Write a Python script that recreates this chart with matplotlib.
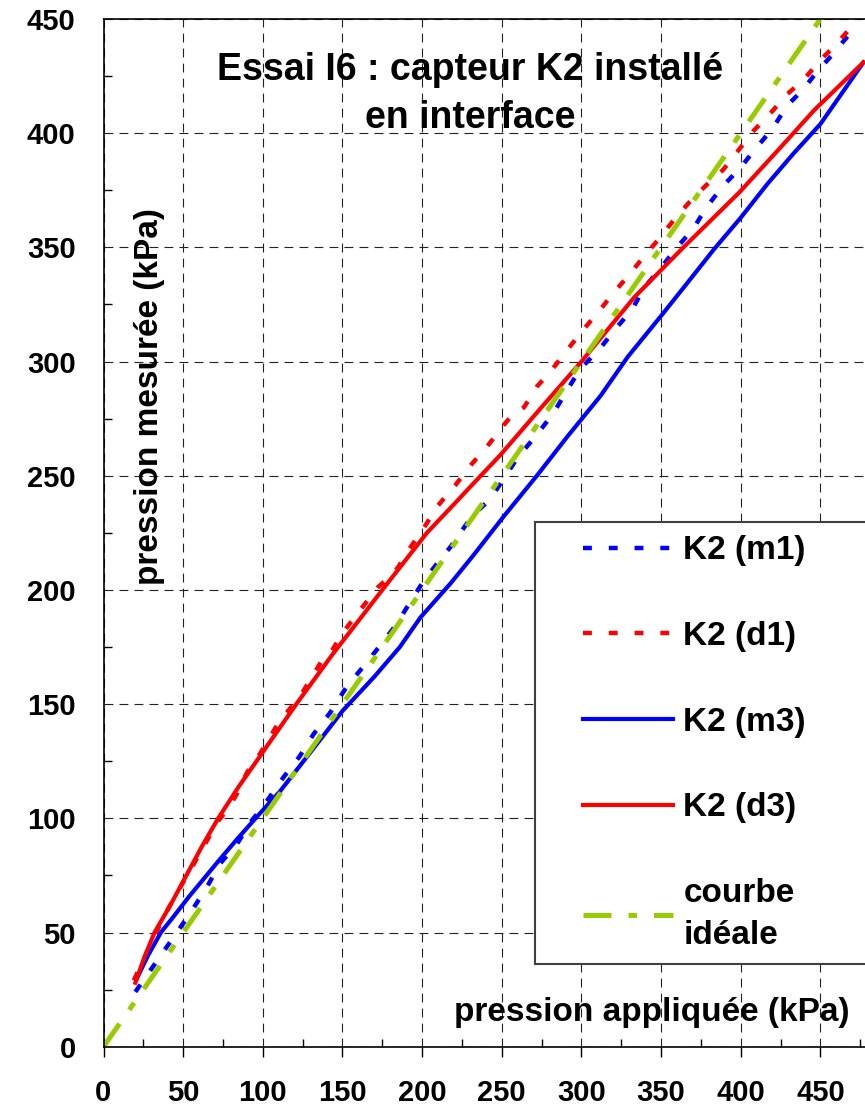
import matplotlib
matplotlib.use("Agg")
import matplotlib.pyplot as plt
from matplotlib.ticker import MultipleLocator
from matplotlib.lines import Line2D
from matplotlib.legend_handler import HandlerLine2D

# Essai I6 : capteur K2 installe en interface
# pression appliquee vs pression mesuree (kPa), values read off the original chart

m1_x = [20, 26, 38, 46, 54, 65, 73, 84, 93, 100, 113, 123, 132, 142, 153, 165, 174, 184, 191, 201,
        211, 218, 231, 243, 260, 272, 282, 295, 301, 312, 321, 332, 339, 351, 360, 370, 379, 389,
        400, 409, 420, 429, 439, 448, 457, 469, 475]
m1_y = [24, 30, 42, 50, 58, 70, 80, 89, 99, 105, 118, 127, 137, 146, 158, 168, 176, 185, 193, 204,
        213, 219, 232, 240, 258, 268, 277, 292, 298, 306, 314, 323, 332, 342, 350, 358, 368, 377,
        385, 393, 402, 412, 419, 427, 434, 444, 447]

d1_x = [19, 25, 31, 38, 45, 55, 64, 71, 78, 84, 90, 98, 110, 117, 123, 131, 137, 143, 151, 162,
        172, 180, 185, 192, 200, 210, 221, 231, 241, 251, 257, 264, 272, 281, 291, 300, 311, 320,
        330, 338, 349, 358, 368, 378, 389, 398, 408, 419, 429, 439, 450, 460, 470]
d1_y = [29, 38, 47, 57, 66, 78, 89, 98, 104, 111, 120, 128, 142, 148, 153, 162, 169, 173, 182, 192,
        201, 206, 210, 218, 226, 237, 246, 255, 263, 272, 277, 280, 289, 296, 305, 313, 322, 330,
        338, 345, 354, 362, 370, 377, 384, 392, 401, 409, 417, 423, 432, 439, 447]

m3_x = [21, 28, 36, 44, 54, 73, 84, 98, 111, 130, 150, 170, 186, 199, 218, 232, 251, 272, 291, 312,
        329, 350, 366, 383, 400, 417, 433, 450, 477]
m3_y = [30, 40, 50, 57, 66, 82, 91, 102, 112, 129, 147, 162, 175, 188, 203, 215, 232, 250, 267, 285,
        302, 320, 334, 349, 363, 378, 391, 404, 431]

d3_x = [20, 25, 32, 42, 52, 62, 72, 85, 100, 121, 144, 175, 203, 222, 230, 249, 270, 300, 333, 364,
        399, 424, 446, 477]
d3_y = [28, 38, 50, 62, 75, 88, 100, 114, 129, 150, 172, 200, 225, 239, 245, 259, 276, 300, 328, 350,
        374, 393, 410, 431]

ideal_x = [0, 450]
ideal_y = [0, 450]

plt.rcParams['font.family'] = ['Liberation Sans', 'DejaVu Sans']
plt.rcParams['font.weight'] = 'bold'

fig = plt.figure(figsize=(8.65, 11.08), dpi=100)
ax = fig.add_axes([103.5 / 865, 61.3 / 1108, 761.5 / 865, 1027.7 / 1108])

dash = (0, (2, 3.8))
ax.plot(m1_x, m1_y, color='#0000FF', lw=3.2, linestyle=dash, label='K2 (m1)')
ax.plot(d1_x, d1_y, color='#FF0000', lw=3.2, linestyle=dash, label='K2 (d1)')
ax.plot(m3_x, m3_y, color='#0000FF', lw=3, label='K2 (m3)')
ax.plot(d3_x, d3_y, color='#FF0000', lw=3, label='K2 (d3)')
ax.plot(ideal_x, ideal_y, color='#99CC00', lw=3.6, linestyle=(0, (5.6, 3.4, 1.7, 3.4)),
        label='courbe\nidéale')

ax.set_xlim(0, 478)
ax.set_ylim(0, 450)
ax.xaxis.set_major_locator(MultipleLocator(50))
ax.yaxis.set_major_locator(MultipleLocator(50))
ax.xaxis.set_minor_locator(MultipleLocator(25))
ax.yaxis.set_minor_locator(MultipleLocator(25))
ax.grid(True, which='major', color='#222222', lw=0.8, linestyle=(0, (8, 5.5)))

ax.tick_params(axis='x', which='major', direction='out', length=7, width=1, pad=16.5, labelsize=21)
ax.tick_params(axis='y', which='major', length=0, pad=20, labelsize=21)
ax.tick_params(which='minor', direction='in', length=5.5, width=1)
ax.spines['right'].set_visible(False)
for s in ['left', 'bottom', 'top']:
    ax.spines[s].set_linewidth(1.2)

ax.text(0.481, 0.927, 'Essai I6 : capteur K2 installé\nen interface', transform=ax.transAxes,
        ha='center', va='center', fontsize=27, fontweight='bold', linespacing=1.4)
ax.text(0.061, 0.633, 'pression mesurée (kPa)', transform=ax.transAxes, rotation=90,
        ha='center', va='center', fontsize=24, fontweight='bold')
ax.text(0.980, 0.033, 'pression appliquée (kPa)', transform=ax.transAxes,
        ha='right', va='center', fontsize=24, fontweight='bold')

leg = ax.legend(loc='upper left', bbox_to_anchor=(535 / 865, 1 - 522 / 1108, 0.4, 0.0),
                bbox_transform=fig.transFigure, mode='expand', borderaxespad=0, fontsize=24,
                handlelength=3.75, handletextpad=0.3, labelspacing=1.64, borderpad=0.4,
                handler_map={Line2D: HandlerLine2D(xpad=1.05)},
                fancybox=False, framealpha=1, edgecolor='#404040')
leg.get_frame().set_linewidth(1.5)
for t in leg.get_texts():
    t.set_fontweight('bold')
leg.get_texts()[-1].set_linespacing(1.45)

fig.savefig('out.png', dpi=100)
